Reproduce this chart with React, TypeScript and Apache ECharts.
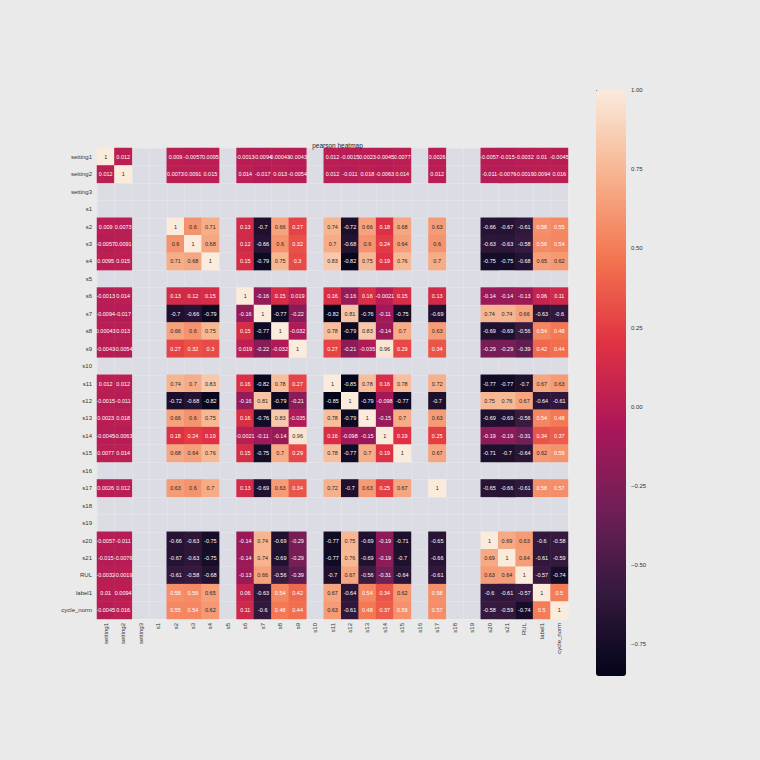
import React, { useEffect, useRef } from "react";
import * as echarts from "echarts";

const allLabels = [
  "setting1", "setting2", "setting3", "s1", "s2", "s3", "s4", "s5", "s6", "s7",
  "s8", "s9", "s10", "s11", "s12", "s13", "s14", "s15", "s16", "s17", "s18",
  "s19", "s20", "s21", "RUL", "label1", "cycle_norm",
];

// constant columns: correlation undefined (NaN)
const nanLabels = ["setting3", "s1", "s5", "s10", "s16", "s18", "s19"];

const validLabels = [
  "setting1", "setting2", "s2", "s3", "s4", "s6", "s7", "s8", "s9", "s11",
  "s12", "s13", "s14", "s15", "s17", "s20", "s21", "RUL", "label1", "cycle_norm",
];

const rowSetting1 = [1, 0.012, 0.009, -0.0057, 0.0095, -0.0013, -0.0094, 0.00043, -0.0043, 0.012, -0.0015, 0.0023, -0.0045, 0.0077, 0.0026, -0.0057, -0.015, -0.0032, 0.01, -0.0045];
const rowSetting2 = [0.012, 1, 0.0073, 0.0091, 0.015, 0.014, -0.017, 0.013, -0.0054, 0.012, -0.011, 0.018, -0.0063, 0.014, 0.012, -0.011, -0.0076, -0.0019, 0.0094, 0.016];
const rowS2 = [0.009, 0.0073, 1, 0.6, 0.71, 0.13, -0.7, 0.66, 0.27, 0.74, -0.72, 0.66, 0.18, 0.68, 0.63, -0.66, -0.67, -0.61, 0.58, 0.55];
const rowS3 = [-0.0057, 0.0091, 0.6, 1, 0.68, 0.12, -0.66, 0.6, 0.32, 0.7, -0.68, 0.6, 0.24, 0.64, 0.6, -0.63, -0.63, -0.58, 0.56, 0.54];
const rowS4 = [0.0095, 0.015, 0.71, 0.68, 1, 0.15, -0.79, 0.75, 0.3, 0.83, -0.82, 0.75, 0.19, 0.76, 0.7, -0.75, -0.75, -0.68, 0.65, 0.62];
const rowS6 = [-0.0013, 0.014, 0.13, 0.12, 0.15, 1, -0.16, 0.15, 0.019, 0.16, -0.16, 0.16, -0.0021, 0.15, 0.13, -0.14, -0.14, -0.13, 0.06, 0.11];
const rowS7 = [-0.0094, -0.017, -0.7, -0.66, -0.79, -0.16, 1, -0.77, -0.22, -0.82, 0.81, -0.76, -0.11, -0.75, -0.69, 0.74, 0.74, 0.66, -0.63, -0.6];
const rowS8 = [0.00043, 0.013, 0.66, 0.6, 0.75, 0.15, -0.77, 1, -0.032, 0.78, -0.79, 0.83, -0.14, 0.7, 0.63, -0.69, -0.69, -0.56, 0.54, 0.48];
const rowS9 = [-0.0043, -0.0054, 0.27, 0.32, 0.3, 0.019, -0.22, -0.032, 1, 0.27, -0.21, -0.035, 0.96, 0.29, 0.34, -0.29, -0.29, -0.39, 0.42, 0.44];
const rowS11 = [0.012, 0.012, 0.74, 0.7, 0.83, 0.16, -0.82, 0.78, 0.27, 1, -0.85, 0.78, 0.16, 0.78, 0.72, -0.77, -0.77, -0.7, 0.67, 0.63];
const rowS12 = [-0.0015, -0.011, -0.72, -0.68, -0.82, -0.16, 0.81, -0.79, -0.21, -0.85, 1, -0.79, -0.098, -0.77, -0.7, 0.75, 0.76, 0.67, -0.64, -0.61];
const rowS13 = [0.0023, 0.018, 0.66, 0.6, 0.75, 0.16, -0.76, 0.83, -0.035, 0.78, -0.79, 1, -0.15, 0.7, 0.63, -0.69, -0.69, -0.56, 0.54, 0.48];
const rowS14 = [-0.0045, -0.0063, 0.18, 0.24, 0.19, -0.0021, -0.11, -0.14, 0.96, 0.16, -0.098, -0.15, 1, 0.19, 0.25, -0.19, -0.19, -0.31, 0.34, 0.37];
const rowS15 = [0.0077, 0.014, 0.68, 0.64, 0.76, 0.15, -0.75, 0.7, 0.29, 0.78, -0.77, 0.7, 0.19, 1, 0.67, -0.71, -0.7, -0.64, 0.62, 0.59];
const rowS17 = [0.0026, 0.012, 0.63, 0.6, 0.7, 0.13, -0.69, 0.63, 0.34, 0.72, -0.7, 0.63, 0.25, 0.67, 1, -0.65, -0.66, -0.61, 0.58, 0.57];
const rowS20 = [-0.0057, -0.011, -0.66, -0.63, -0.75, -0.14, 0.74, -0.69, -0.29, -0.77, 0.75, -0.69, -0.19, -0.71, -0.65, 1, 0.69, 0.63, -0.6, -0.58];
const rowS21 = [-0.015, -0.0076, -0.67, -0.63, -0.75, -0.14, 0.74, -0.69, -0.29, -0.77, 0.76, -0.69, -0.19, -0.7, -0.66, 0.69, 1, 0.64, -0.61, -0.59];
const rowRUL = [-0.0032, -0.0019, -0.61, -0.58, -0.68, -0.13, 0.66, -0.56, -0.39, -0.7, 0.67, -0.56, -0.31, -0.64, -0.61, 0.63, 0.64, 1, -0.57, -0.74];
const rowLabel1 = [0.01, 0.0094, 0.58, 0.56, 0.65, 0.06, -0.63, 0.54, 0.42, 0.67, -0.64, 0.54, 0.34, 0.62, 0.58, -0.6, -0.61, -0.57, 1, 0.5];
const rowCycleNorm = [-0.0045, 0.016, 0.55, 0.54, 0.62, 0.11, -0.6, 0.48, 0.44, 0.63, -0.61, 0.48, 0.37, 0.59, 0.57, -0.58, -0.59, -0.74, 0.5, 1];

const validRows = [
  rowSetting1, rowSetting2, rowS2, rowS3, rowS4, rowS6, rowS7, rowS8, rowS9, rowS11,
  rowS12, rowS13, rowS14, rowS15, rowS17, rowS20, rowS21, rowRUL, rowLabel1, rowCycleNorm,
];

const colorbarTicks = [-0.75, -0.5, -0.25, 0, 0.25, 0.5, 0.75, 1];
const vmin = -0.85;
const vmax = 1;

const rocket = [
  "#03051A", "#35193E", "#701F57", "#AD1759", "#E13342", "#F37651", "#F6B48F", "#FAEBDD",
];

const FONT = "Liberation Sans";

function fmt(v: number): string {
  return String(parseFloat(v.toPrecision(2)));
}

function buildData() {
  const data: any[] = [];
  for (let yi = 0; yi < allLabels.length; yi++) {
    const ry = validLabels.indexOf(allLabels[yi]);
    if (ry < 0) continue;
    for (let xi = 0; xi < allLabels.length; xi++) {
      const rx = validLabels.indexOf(allLabels[xi]);
      if (rx < 0) continue;
      const v = validRows[ry][rx];
      data.push({
        value: [xi, yi, v],
        label: { color: v >= 0.595 ? "#262626" : "#ffffff" },
      });
    }
  }
  return data;
}

export default function App() {
  const ref = useRef<HTMLDivElement>(null);
  useEffect(() => {
    if (!ref.current) return;
    const chart = echarts.init(ref.current, undefined, { renderer: "svg" });
    const gridLeft = 97;
    const gridTop = 148;
    const gridSize = 471;
    chart.setOption({
      animation: false,
      backgroundColor: "#eaeaea",
      title: {
        text: "pearson heatmap",
        left: gridLeft + gridSize / 2,
        textAlign: "center",
        top: 137,
        textStyle: { fontSize: 6.5, fontWeight: "normal", color: "#262626", fontFamily: FONT },
      },
      grid: [
        {
          left: gridLeft,
          top: gridTop,
          width: gridSize,
          height: gridSize,
          show: true,
          backgroundColor: "#dcdce4",
          borderWidth: 0,
        },
        { left: 596, top: 90, width: 30, height: 586, show: false },
      ],
      xAxis: [
        {
          type: "category",
          data: allLabels,
          gridIndex: 0,
          axisLine: { show: false },
          axisTick: { show: false },
          splitLine: { show: true, lineStyle: { color: "rgba(255,255,255,0.35)", width: 0.5 } },
          axisLabel: {
            rotate: 90,
            interval: 0,
            fontSize: 6,
            color: "#333333",
            fontFamily: FONT,
            margin: 4,
          },
        },
        { type: "value", gridIndex: 1, show: false, min: 0, max: 1 },
      ],
      yAxis: [
        {
          type: "category",
          data: allLabels,
          inverse: true,
          gridIndex: 0,
          axisLine: { show: false },
          axisTick: { show: false },
          splitLine: { show: true, lineStyle: { color: "rgba(255,255,255,0.35)", width: 0.5 } },
          axisLabel: {
            interval: 0,
            fontSize: 6,
            color: "#333333",
            fontFamily: FONT,
            margin: 5,
          },
        },
        {
          type: "value",
          gridIndex: 1,
          min: vmin,
          max: vmax,
          position: "right",
          axisLine: { show: false },
          splitLine: { show: false },
          axisTick: {
            show: true,
            length: 3,
            customValues: colorbarTicks,
            lineStyle: { color: "#333333", width: 0.6 },
          },
          axisLabel: {
            customValues: colorbarTicks,
            fontSize: 6,
            color: "#333333",
            fontFamily: FONT,
            margin: 5,
            formatter: (v: number) => v.toFixed(2).replace("-", "\u2212"),
          },
        },
      ],
      visualMap: {
        type: "continuous",
        min: vmin,
        max: vmax,
        seriesIndex: 0,
        calculable: false,
        hoverLink: false,
        left: 596,
        top: 90,
        padding: 0,
        itemWidth: 30,
        itemHeight: 586,
        showLabel: false,
        textStyle: { color: "rgba(0,0,0,0)", fontSize: 1 },
        inRange: { color: rocket },
      },
      series: [
        {
          type: "heatmap",
          xAxisIndex: 0,
          yAxisIndex: 0,
          data: buildData(),
          label: {
            show: true,
            fontSize: 5.5,
            fontFamily: FONT,
            formatter: (p: any) => fmt(p.value[2]),
          },
          itemStyle: { borderWidth: 0 },
          emphasis: { disabled: true },
        },
        {
          type: "scatter",
          xAxisIndex: 1,
          yAxisIndex: 1,
          data: [],
          silent: true,
        },
      ],
    });
    return () => chart.dispose();
  }, []);
  return (
    <div
      ref={ref}
      style={{ position: "fixed", left: 0, top: 0, width: 760, height: 760 }}
    />
  );
}
